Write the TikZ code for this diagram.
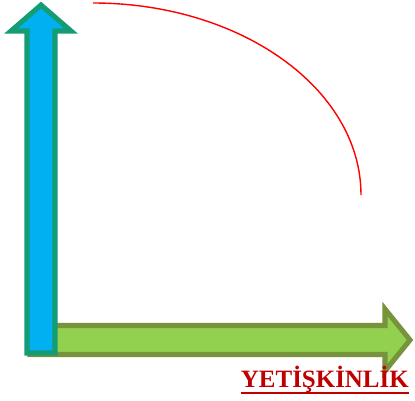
\documentclass[tikz,border=0pt]{standalone}
\usepackage{fontspec}
\setmainfont{Liberation Serif}
\usepackage{tikz}

\definecolor{axisblue}{HTML}{00B0F0}
\definecolor{axisteal}{HTML}{149C74}
\definecolor{axisgreen}{HTML}{92D050}
\definecolor{axisolive}{HTML}{77933C}
\definecolor{labelred}{HTML}{C00000}

\begin{document}
\begin{tikzpicture}[
  x=0.03cm, y=-0.03cm,
  yarrow/.style={fill=axisblue,draw=axisteal,line width=4.3pt,line join=miter},
  xarrow/.style={fill=axisgreen,draw=axisolive,line width=4.3pt,line join=miter},
  curve/.style={draw=red,line width=1.2pt},
  axislabel/.style={inner sep=0pt,text=labelred,font=\fontsize{21.3}{24}\selectfont\bfseries}
]
\useasboundingbox (0,0) rectangle (415,401);
% horizontal axis
\draw[xarrow] (30,325.5) -- (385,325.5) -- (385,309) -- (410,340)
  -- (385,371) -- (385,354.5) -- (30,354.5) -- cycle;
% vertical axis
\draw[yarrow] (27,353) -- (27,31) -- (11,31) -- (41,5) -- (71,31)
  -- (55,31) -- (55,353) -- cycle;
% curve
\draw[curve] (93,3) arc[start angle=-90,end angle=0,x radius=268,y radius=192];
% label
\node[axislabel,anchor=base east] (yetiskinlik) at (409,387) {YETİŞKİNLİK};
\draw[labelred,line width=1.7pt] ([yshift=-5]yetiskinlik.base west) -- ([yshift=-5]yetiskinlik.base east);
\end{tikzpicture}
\end{document}
